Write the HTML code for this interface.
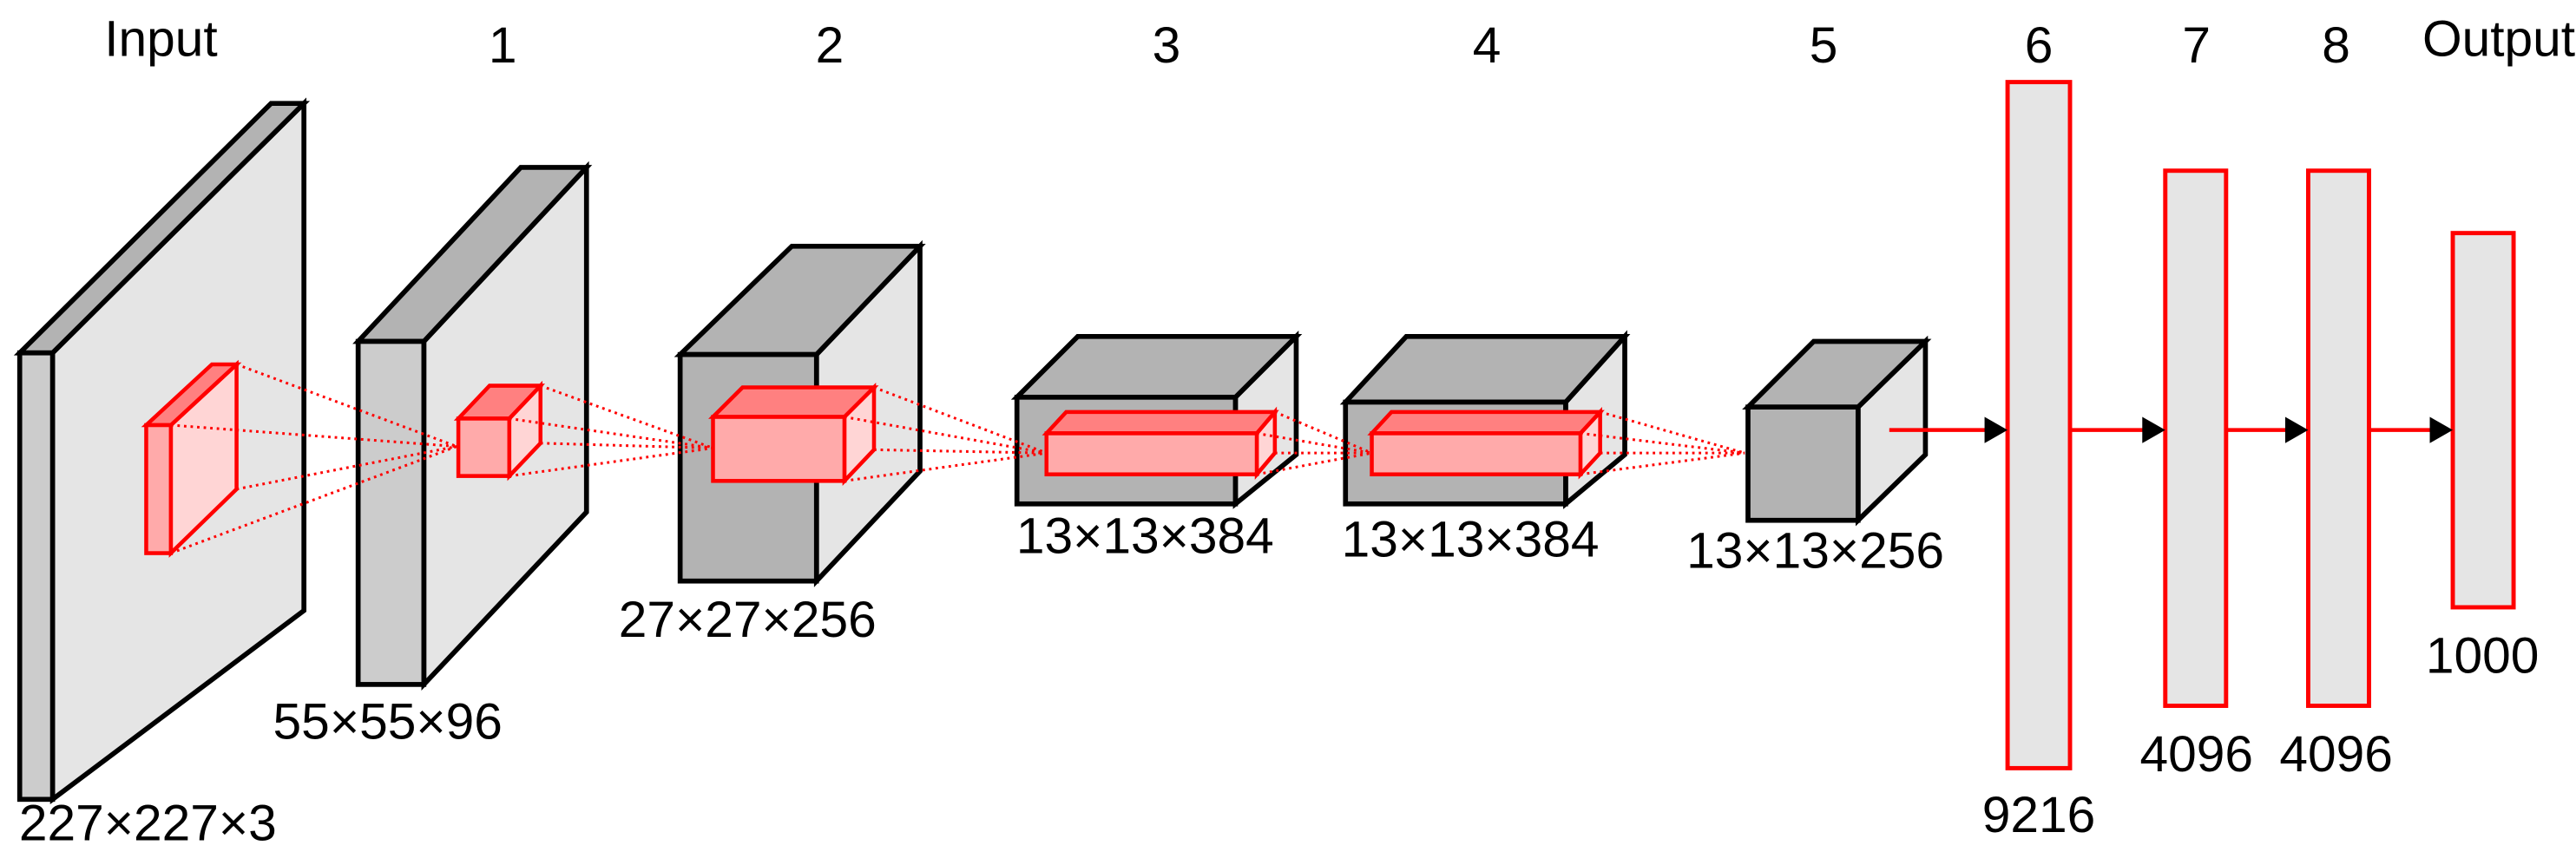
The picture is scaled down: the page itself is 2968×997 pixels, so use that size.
<!DOCTYPE html>
<html><head><meta charset="utf-8"><style>html,body{margin:0;padding:0;background:#fff}svg{display:block}</style></head>
<body>
<svg width="2968" height="997" viewBox="0 0 1568 527" preserveAspectRatio="none" xmlns="http://www.w3.org/2000/svg" font-family="Liberation Sans, Arial, sans-serif" font-size="31">
<g stroke="#000" stroke-width="3" stroke-linejoin="miter">
<polygon points="32,215 185,63 185,372 32,487" fill="#e5e5e5"/>
<polygon points="12,215 32,215 185,63 165,63" fill="#b3b3b3"/>
<rect x="12" y="215" width="20" height="272" fill="#cccccc"/>
<polygon points="258,208 357,102 357,312 258,417" fill="#e5e5e5"/>
<polygon points="218,208 258,208 357,102 317,102" fill="#b3b3b3"/>
<rect x="218" y="208" width="40" height="209" fill="#cccccc"/>
<polygon points="497,216 560,150 560,287 497,354" fill="#e5e5e5"/>
<polygon points="414,216 497,216 560,150 482,150" fill="#b3b3b3"/>
<rect x="414" y="216" width="83" height="138" fill="#b3b3b3"/>
<polygon points="752,242 789,205 789,277 752,307" fill="#e5e5e5"/>
<polygon points="619,242 752,242 789,205 656,205" fill="#b3b3b3"/>
<rect x="619" y="242" width="133" height="65" fill="#b3b3b3"/>
<polygon points="953,245 989,205 989,277 953,307" fill="#e5e5e5"/>
<polygon points="819,245 953,245 989,205 856,205" fill="#b3b3b3"/>
<rect x="819" y="245" width="134" height="62" fill="#b3b3b3"/>
<polygon points="1131,248 1172,208 1172,277 1131,317" fill="#e5e5e5"/>
<polygon points="1064,248 1131,248 1172,208 1104,208" fill="#b3b3b3"/>
<rect x="1064" y="248" width="67" height="69" fill="#b3b3b3"/>
</g>
<g stroke="#ff0000" stroke-width="2.4" stroke-linejoin="miter">
<polygon points="104,259 144,222 144,298 104,337" fill="#ffd5d5"/>
<polygon points="89,259 104,259 144,222 129,222" fill="#ff8080"/>
<rect x="89" y="259" width="15" height="78" fill="#ffaaaa"/>
<polygon points="310,255 329,235 329,270 310,290" fill="#ffd5d5"/>
<polygon points="279,255 310,255 329,235 298,235" fill="#ff8080"/>
<rect x="279" y="255" width="31" height="35" fill="#ffaaaa"/>
<polygon points="514,254 532,236 532,274 514,293" fill="#ffd5d5"/>
<polygon points="434,254 514,254 532,236 452,236" fill="#ff8080"/>
<rect x="434" y="254" width="80" height="39" fill="#ffaaaa"/>
<polygon points="765,264 776,251 776,276 765,289" fill="#ffd5d5"/>
<polygon points="637,264 765,264 776,251 649,251" fill="#ff8080"/>
<rect x="637" y="264" width="128" height="25" fill="#ffaaaa"/>
<polygon points="962,264 974,251 974,276 962,289" fill="#ffd5d5"/>
<polygon points="835,264 962,264 974,251 847,251" fill="#ff8080"/>
<rect x="835" y="264" width="127" height="25" fill="#ffaaaa"/>
</g>
<g stroke="#ff0000" stroke-width="1.6" stroke-dasharray="1.5,2.5" fill="none">
<path d="M144,222L278,272M104,259L278,272M144,298L278,272M104,337L278,272"/>
<path d="M329,235L434,273M310,255L434,273M329,270L434,273M310,290L434,273"/>
<path d="M532,236L637,276M514,254L637,276M532,274L637,276M514,293L637,276"/>
<path d="M776,251L835,276M765,264L835,276M776,276L835,276M765,289L835,276"/>
<path d="M974,251L1062,276M962,264L1062,276M974,276L1062,276M962,289L1062,276"/>
</g>
<g stroke="#ff0000" stroke-width="2.6" fill="#e5e5e5">
<rect x="1222" y="50" width="38" height="418"/>
<rect x="1318" y="104" width="37" height="326"/>
<rect x="1405" y="104" width="37" height="326"/>
<rect x="1493" y="142" width="37" height="228"/>
</g>
<g stroke="#ff0000" stroke-width="2.4">
<line x1="1150" y1="262" x2="1212" y2="262"/>
<line x1="1260" y1="262" x2="1308" y2="262"/>
<line x1="1355" y1="262" x2="1395" y2="262"/>
<line x1="1442" y1="262" x2="1483" y2="262"/>
</g>
<g fill="#000">
<polygon points="1208,254 1222,262 1208,270"/>
<polygon points="1304,254 1318,262 1304,270"/>
<polygon points="1391,254 1405,262 1391,270"/>
<polygon points="1479,254 1493,262 1479,270"/>
</g>
<g fill="#000" text-anchor="middle">
<text x="98" y="34">Input</text>
<text x="306" y="38">1</text>
<text x="505" y="38">2</text>
<text x="710" y="38">3</text>
<text x="905" y="38">4</text>
<text x="1110" y="38">5</text>
<text x="1241" y="38">6</text>
<text x="1337" y="38">7</text>
<text x="1422" y="38">8</text>
<text x="1521" y="34">Output</text>
<text x="90" y="512">227×227×3</text>
<text x="236" y="450">55×55×96</text>
<text x="455" y="388">27×27×256</text>
<text x="697" y="337">13×13×384</text>
<text x="895" y="339">13×13×384</text>
<text x="1105" y="346">13×13×256</text>
<text x="1241" y="507">9216</text>
<text x="1337" y="470">4096</text>
<text x="1422" y="470">4096</text>
<text x="1511" y="410">1000</text>
</g>
</svg>
</body></html>
